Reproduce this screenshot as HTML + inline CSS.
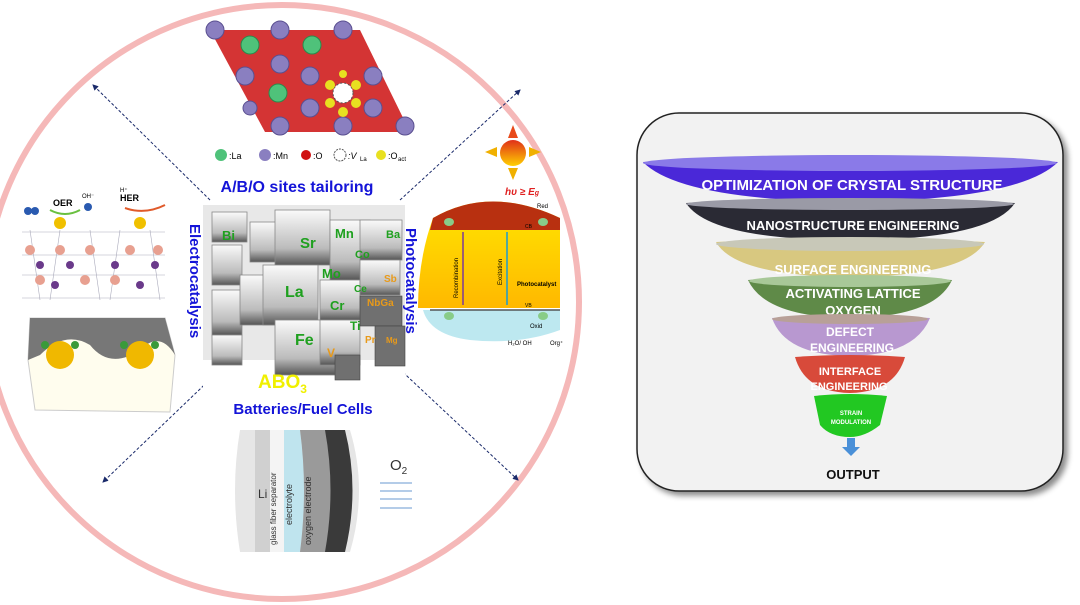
<!DOCTYPE html>
<html><head><meta charset="utf-8"><style>
html,body{margin:0;padding:0;background:#fff;width:1080px;height:605px;overflow:hidden}
svg{display:block}
text{font-family:"Liberation Sans",sans-serif}
</style></head><body>
<svg width="1080" height="605" viewBox="0 0 1080 605" xmlns="http://www.w3.org/2000/svg">
<defs>
<marker id="ah" markerWidth="6" markerHeight="6" refX="5" refY="3" orient="auto"><path d="M0,0 L6,3 L0,6z" fill="#1a2a6a"/></marker>
<linearGradient id="cube" x1="0" y1="0" x2="0" y2="1"><stop offset="0" stop-color="#fafafa"/><stop offset="0.7" stop-color="#bbb"/><stop offset="1" stop-color="#555"/></linearGradient>
<linearGradient id="sun" x1="0" y1="0" x2="0" y2="1"><stop offset="0" stop-color="#e0301a"/><stop offset="1" stop-color="#ffd000"/></linearGradient>
<linearGradient id="pc" x1="0" y1="0" x2="0" y2="1"><stop offset="0" stop-color="#ffe600"/><stop offset="1" stop-color="#ffb800"/></linearGradient>
<filter id="sh" x="-10%" y="-10%" width="130%" height="130%"><feDropShadow dx="4" dy="4" stdDeviation="3" flood-color="#000" flood-opacity="0.45"/></filter>
</defs>

<!-- big circle -->
<circle cx="282" cy="302" r="297" fill="#fff" stroke="#f5b8b8" stroke-width="6"/>

<!-- dashed arrows -->
<g stroke="#1a2a6a" stroke-width="1" stroke-dasharray="3,2" fill="none" marker-end="url(#ah)">
<line x1="210" y1="200" x2="93" y2="85"/>
<line x1="400" y1="200" x2="520" y2="90"/>
<line x1="222" y1="368" x2="103" y2="482"/>
<line x1="392" y1="362" x2="518" y2="480"/>
</g>

<!-- crystal structure -->
<g>
<polygon points="210,30 360,30 410,132 265,132" fill="#cc1111" opacity="0.85"/>
<g fill="#8a7fc0" stroke="#5a4f90" stroke-width="1">
<circle cx="215" cy="30" r="9"/><circle cx="280" cy="30" r="9"/><circle cx="343" cy="30" r="9"/>
<circle cx="280" cy="64" r="9"/><circle cx="245" cy="76" r="9"/><circle cx="310" cy="76" r="9"/><circle cx="373" cy="76" r="9"/>
<circle cx="310" cy="108" r="9"/><circle cx="373" cy="108" r="9"/><circle cx="280" cy="126" r="9"/><circle cx="343" cy="126" r="9"/><circle cx="405" cy="126" r="9"/><circle cx="250" cy="108" r="7"/>
</g>
<g fill="#4fc27a" stroke="#2a8a4a"><circle cx="250" cy="45" r="9"/><circle cx="312" cy="45" r="9"/><circle cx="278" cy="93" r="9"/></g>
<circle cx="343" cy="93" r="10" fill="#fff" stroke="#555" stroke-dasharray="2,2"/>
<g fill="#e8e020"><circle cx="330" cy="85" r="5"/><circle cx="356" cy="85" r="5"/><circle cx="330" cy="103" r="5"/><circle cx="356" cy="103" r="5"/><circle cx="343" cy="112" r="5"/><circle cx="343" cy="74" r="4"/></g>
</g>
<!-- legend -->
<g font-family="Liberation Serif" font-size="9" fill="#000">
<circle cx="221" cy="155" r="6" fill="#4fc27a"/><text x="229" y="159">:La</text>
<circle cx="265" cy="155" r="6" fill="#8a7fc0"/><text x="273" y="159">:Mn</text>
<circle cx="306" cy="155" r="5" fill="#d01010"/><text x="313" y="159">:O</text>
<circle cx="340" cy="155" r="6" fill="#fff" stroke="#555" stroke-dasharray="2,1"/><text x="348" y="159" font-style="italic">:V</text><text x="360" y="161" font-size="6">La</text>
<circle cx="381" cy="155" r="5" fill="#e8e020"/><text x="388" y="159">:O</text><text x="398" y="161" font-size="6">act</text>
</g>
<text x="297" y="192" text-anchor="middle" font-size="16" font-weight="bold" fill="#1414d8">A/B/O sites tailoring</text>

<!-- cubes -->
<g>
<rect x="203" y="205" width="202" height="155" fill="#e8e8e8"/>
<rect x="203" y="360" width="202" height="30" fill="#fff"/>
<g fill="url(#cube)" stroke="#888" stroke-width="0.8">
<rect x="212" y="212" width="35" height="30"/><rect x="212" y="245" width="30" height="40"/><rect x="212" y="290" width="30" height="45"/><rect x="212" y="335" width="30" height="30"/>
<rect x="250" y="222" width="30" height="40"/><rect x="240" y="275" width="40" height="50"/>
<rect x="275" y="210" width="55" height="55"/><rect x="263" y="265" width="55" height="60"/><rect x="275" y="320" width="60" height="55"/>
<rect x="330" y="220" width="40" height="60"/><rect x="320" y="280" width="40" height="40"/><rect x="320" y="320" width="40" height="45"/>
<rect x="360" y="220" width="42" height="40"/><rect x="360" y="260" width="40" height="35"/>
</g>
<g fill="#707070" stroke="#444" stroke-width="0.6"><rect x="360" y="296" width="42" height="30"/><rect x="375" y="326" width="30" height="40"/><rect x="335" y="355" width="25" height="25"/></g>
<g font-weight="bold" fill="#1fa01f">
<text x="222" y="240" font-size="13">Bi</text><text x="300" y="248" font-size="15">Sr</text><text x="335" y="238" font-size="13">Mn</text>
<text x="386" y="238" font-size="11">Ba</text><text x="355" y="258" font-size="11">Co</text><text x="322" y="278" font-size="13">Mo</text>
<text x="354" y="292" font-size="10">Ce</text><text x="285" y="297" font-size="16">La</text><text x="330" y="310" font-size="13">Cr</text>
<text x="350" y="330" font-size="12">Ti</text><text x="295" y="345" font-size="16">Fe</text>
</g>
<g font-weight="bold" fill="#e89a1a">
<text x="367" y="306" font-size="10">NbGa</text><text x="365" y="343" font-size="10">Pr</text><text x="386" y="343" font-size="8">Mg</text><text x="327" y="357" font-size="12">V</text><text x="384" y="282" font-size="10">Sb</text>
</g>
<text x="258" y="388" font-size="19" font-weight="bold" fill="#f0f000">ABO<tspan font-size="12" dy="5">3</tspan></text>
</g>

<text transform="translate(190,224) rotate(90)" font-size="15" font-weight="bold" fill="#1414d8">Electrocatalysis</text>
<text transform="translate(406,228) rotate(90)" font-size="15" font-weight="bold" fill="#1414d8">Photocatalysis</text>
<text x="303" y="414" text-anchor="middle" font-size="15" font-weight="bold" fill="#1414d8">Batteries/Fuel Cells</text>

<!-- electrocatalysis pics -->
<g>
<circle cx="28" cy="211" r="4" fill="#2a5ab0"/><circle cx="35" cy="211" r="4" fill="#2a5ab0"/>
<text x="53" y="206" font-size="9" font-weight="bold">OER</text><circle cx="88" cy="207" r="4" fill="#2a5ab0"/><text x="82" y="198" font-size="6">OH⁻</text>
<text x="120" y="201" font-size="9" font-weight="bold">HER</text><text x="120" y="192" font-size="6">H⁺</text>
<path d="M125,208 Q145,215 165,205" stroke="#e05a2a" stroke-width="2" fill="none"/>
<path d="M50,210 Q65,218 80,210" stroke="#6ac040" stroke-width="2" fill="none"/>
<circle cx="60" cy="223" r="6" fill="#f0c000"/><circle cx="140" cy="223" r="6" fill="#f0c000"/>
<g stroke="#aab" stroke-width="0.6" fill="none"><path d="M22,232 L165,232 M22,255 L165,255 M22,275 L165,275 M22,298 L165,298 M30,230 L40,300 M60,230 L50,300 M90,230 L100,300 M120,230 L110,300 M150,230 L160,300"/></g>
<g fill="#e8a090"><circle cx="30" cy="250" r="5"/><circle cx="60" cy="250" r="5"/><circle cx="90" cy="250" r="5"/><circle cx="130" cy="250" r="5"/><circle cx="40" cy="280" r="5"/><circle cx="85" cy="280" r="5"/><circle cx="115" cy="280" r="5"/><circle cx="158" cy="250" r="5"/></g>
<g fill="#6a3a8a"><circle cx="40" cy="265" r="4"/><circle cx="70" cy="265" r="4"/><circle cx="115" cy="265" r="4"/><circle cx="155" cy="265" r="4"/><circle cx="55" cy="285" r="4"/><circle cx="140" cy="285" r="4"/></g>
<path d="M30,318 L165,318 L175,355 L170,412 L35,410 L28,360z" fill="#fffdee" stroke="#ccc"/>
<path d="M30,318 L165,318 L175,355 Q160,330 140,350 Q110,370 90,345 Q65,330 40,355 L28,360z" fill="#777"/>
<circle cx="60" cy="355" r="14" fill="#f0b800"/><circle cx="140" cy="355" r="14" fill="#f0b800"/>
<circle cx="45" cy="345" r="4" fill="#3a9a3a"/><circle cx="75" cy="345" r="4" fill="#3a9a3a"/><circle cx="124" cy="345" r="4" fill="#3a9a3a"/><circle cx="155" cy="345" r="4" fill="#3a9a3a"/>
</g>

<!-- photocatalysis -->
<g>
<polygon points="513,125 518,138 508,138" fill="#e84a1a"/><polygon points="513,180 518,168 508,168" fill="#f0b000"/>
<polygon points="485,152 497,147 497,157" fill="#f0b000"/><polygon points="541,152 529,147 529,157" fill="#f0b000"/>
<circle cx="513" cy="153" r="13" fill="url(#sun)"/>
<text x="505" y="195" font-size="10" font-weight="bold" font-style="italic" fill="#e02020">hυ ≥ E<tspan font-size="7">g</tspan></text>
<path d="M433,218 Q490,185 560,218 L560,308 L418,308 Q418,260 433,218z" fill="url(#pc)"/>
<path d="M433,218 Q490,185 560,218 L560,230 L430,230z" fill="#b83010"/>
<path d="M423,310 L560,310 L560,330 Q520,345 470,340 Q430,335 423,310z" fill="#bde8f0"/>
<line x1="430" y1="310" x2="560" y2="310" stroke="#555" stroke-width="1.5"/>
<line x1="463" y1="232" x2="463" y2="305" stroke="#7a3a9a" stroke-width="1.5"/>
<line x1="507" y1="305" x2="507" y2="232" stroke="#1a9ad0" stroke-width="1.5"/>
<text transform="translate(458,298) rotate(-90)" font-size="6">Recombination</text>
<text transform="translate(502,285) rotate(-90)" font-size="6">Excitation</text>
<text x="517" y="286" font-size="6" font-weight="bold">Photocatalyst</text>
<text x="525" y="228" font-size="5">CB</text><text x="525" y="307" font-size="5">VB</text>
<text x="537" y="208" font-size="6" fill="#000">Red</text><text x="530" y="328" font-size="6">Oxid</text>
<text x="508" y="345" font-size="6">H₂O/ OH</text><text x="550" y="345" font-size="6">Org⁺</text>
<ellipse cx="449" cy="222" rx="5" ry="4" fill="#8c8"/><ellipse cx="543" cy="222" rx="5" ry="4" fill="#8c8"/>
<ellipse cx="449" cy="316" rx="5" ry="4" fill="#8c8"/><ellipse cx="543" cy="316" rx="5" ry="4" fill="#8c8"/>
</g>

<!-- battery -->
<g>
<path d="M240,430 L350,430 Q368,490 350,552 L240,552 Q230,490 240,430z" fill="#e6e6e6"/>
<rect x="255" y="430" width="15" height="122" fill="#d0d0d0"/>
<rect x="270" y="430" width="15" height="122" fill="#f4f4f4"/>
<path d="M284,430 L300,430 Q308,490 300,552 L284,552z" fill="#bfe4ee"/>
<path d="M300,430 L328,430 Q340,490 328,552 L300,552 Q308,490 300,430z" fill="#9a9a9a"/>
<path d="M325,430 L345,430 Q360,490 345,552 L325,552 Q336,490 325,430z" fill="#3a3a3a"/>
<text x="258" y="498" font-size="12" fill="#333">Li</text>
<text transform="translate(276,545) rotate(-90)" font-size="8" fill="#333">glass fiber separator</text>
<text transform="translate(292,525) rotate(-90)" font-size="9" fill="#333">electrolyte</text>
<text transform="translate(311,545) rotate(-90)" font-size="9" fill="#333">oxygen electrode</text>
<text x="390" y="470" font-size="15" fill="#333">O<tspan font-size="10" dy="4">2</tspan></text>
<g stroke="#6a9ad0" stroke-width="1"><line x1="380" y1="483" x2="412" y2="483"/><line x1="380" y1="491" x2="412" y2="491"/><line x1="380" y1="499" x2="412" y2="499"/><line x1="380" y1="508" x2="412" y2="508"/></g>
</g>

<!-- funnel panel -->
<rect x="637" y="113" width="426" height="378" rx="42" fill="#f2f2f2" stroke="#222" stroke-width="1.5" filter="url(#sh)"/>
<g font-weight="bold" fill="#fff" text-anchor="middle">
<path d="M643,162 Q850,150 1058,162 Q1020,200 850,202 Q680,200 643,162z" fill="#4a28d8"/>
<ellipse cx="850" cy="163" rx="207" ry="8" fill="#8a7ae8"/>
<text x="852" y="190" font-size="15">OPTIMIZATION OF CRYSTAL STRUCTURE</text>
<path d="M686,203 Q850,195 1015,203 Q990,240 850,240 Q710,240 686,203z" fill="#2a2a34"/>
<ellipse cx="850" cy="204" rx="164" ry="6" fill="#9a9aa6"/>
<text x="853" y="230" font-size="13">NANOSTRUCTURE ENGINEERING</text>
<path d="M716,242 Q850,235 985,242 Q965,276 850,277 Q735,276 716,242z" fill="#d8c880"/>
<ellipse cx="850" cy="244" rx="134" ry="7" fill="#c8c8b8"/>
<text x="853" y="274" font-size="13">SURFACE ENGINEERING</text>
<path d="M748,280 Q850,274 952,280 Q935,317 850,318 Q765,317 748,280z" fill="#5f8a48"/>
<ellipse cx="850" cy="281" rx="101" ry="6" fill="#a8c898"/>
<text x="853" y="298" font-size="13">ACTIVATING LATTICE</text>
<text x="853" y="315" font-size="13">OXYGEN</text>
<path d="M772,318 Q850,313 930,318 Q915,355 850,356 Q785,355 772,318z" fill="#b898d0"/>
<ellipse cx="850" cy="319" rx="78" ry="5" fill="#b8a098"/>
<text x="850" y="336" font-size="12">DEFECT</text>
<text x="852" y="352" font-size="12">ENGINEERING</text>
<path d="M795,357 Q850,353 905,357 Q895,392 850,393 Q805,392 795,357z" fill="#d84a3a"/>
<text x="850" y="375" font-size="11">INTERFACE</text>
<text x="849" y="390" font-size="11">ENGINEERING</text>
<path d="M814,396 Q850,392 887,396 L880,425 Q865,437 850,437 Q830,437 820,425z" fill="#22c822"/>
<text x="851" y="415" font-size="6">STRAIN</text>
<text x="851" y="424" font-size="6">MODULATION</text>
</g>
<path d="M847,438 L855,438 L855,447 L860,447 L851,456 L842,447 L847,447z" fill="#4a90d8"/>
<text x="853" y="479" font-size="13" font-weight="bold" text-anchor="middle" fill="#111">OUTPUT</text>
</svg>
</body></html>
